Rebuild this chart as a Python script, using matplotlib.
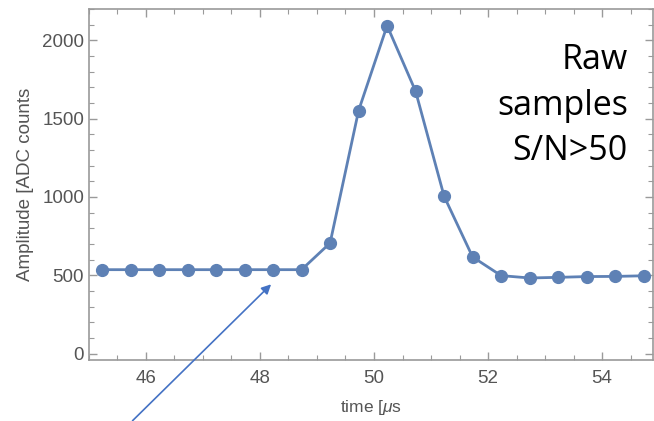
import matplotlib.pyplot as plt
from matplotlib.ticker import MultipleLocator

plt.rcParams['font.family'] = ['Liberation Sans', 'DejaVu Sans']
plt.rcParams['mathtext.fontset'] = 'custom'
plt.rcParams['mathtext.it'] = 'Liberation Sans:italic'

# sample times (us) and amplitudes (ADC counts)
t = [45.23, 45.73, 46.23, 46.73, 47.23, 47.73, 48.23, 48.73, 49.23, 49.73,
     50.23, 50.73, 51.23, 51.73, 52.23, 52.73, 53.23, 53.73, 54.23, 54.73]
amp = [536, 536, 536, 536, 536, 536, 536, 536, 706, 1551,
       2093, 1674, 1004, 617, 498, 483, 487, 492, 493, 497]

blue = '#5E81B5'
gray = '#555555'
frame = '#9a9a9a'

fig = plt.figure(figsize=(6.54, 4.21), dpi=100)
ax = fig.add_axes([0.136, 0.145, 0.863, 0.834])

ax.plot(t, amp, color=blue, lw=2.0, marker='o', ms=8.5, mec=blue, mfc=blue)

ax.set_xlim(45.0, 54.9)
ax.set_ylim(-40, 2200)

# Mathematica-like frame ticks
ax.xaxis.set_major_locator(MultipleLocator(2))
ax.xaxis.set_minor_locator(MultipleLocator(0.5))
ax.yaxis.set_major_locator(MultipleLocator(500))
ax.yaxis.set_minor_locator(MultipleLocator(100))
ax.tick_params(which='both', direction='in', top=True, right=True,
               color=frame, labelcolor=gray, labelsize=13.5)
ax.tick_params(which='major', length=6, width=1)
ax.tick_params(axis='x', which='major', pad=7)
ax.tick_params(which='minor', length=3.5, width=0.8)
for s in ax.spines.values():
    s.set_color(frame)
    s.set_linewidth(1.2)

ax.set_xlabel('time [$\\mu$s', color=gray, fontsize=12.5, labelpad=8)
ax.set_ylabel('Amplitude [ADC counts', color=gray, fontsize=13.5, labelpad=6)

# annotation text and arrow
ax.text(54.45, 1583, 'Raw\nsamples\nS/N>50', ha='right', va='center',
        fontsize=24.5, family='Open Sans', linespacing=1.45, color='black')
ax.annotate('', xy=(48.23, 455), xytext=(45.73, -440),
            arrowprops=dict(arrowstyle='-|>', color='#4472C4', lw=1.2,
                            mutation_scale=14),
            annotation_clip=False)

fig.savefig('out.png', dpi=100)
